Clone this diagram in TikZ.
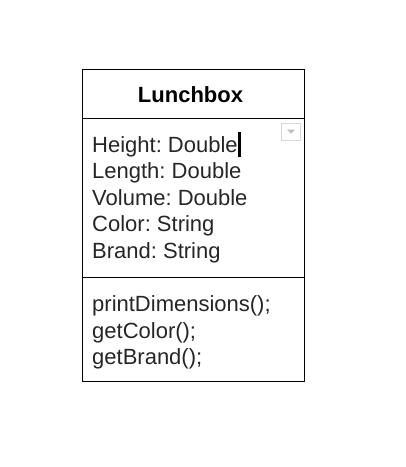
\documentclass[tikz,border=0pt]{standalone}
\usepackage{fontspec}
\setmainfont{Liberation Sans}
\frenchspacing
\begin{document}
\begin{tikzpicture}[x=1pt,y=-1pt,
  txt/.style={anchor=base west,inner sep=0pt,font=\fontsize{22}{26}\selectfont\frenchspacing,text=black!85},
  ttl/.style={anchor=base,inner sep=0pt,font=\fontsize{22}{26}\selectfont\bfseries},
  frame/.style={draw=black,line width=1pt}]
\useasboundingbox (0,0) rectangle (406,467);
\draw[frame] (82.5,69.5) rectangle (304.5,381.5);
\draw[frame] (82.5,118.5) -- (304.5,118.5);
\draw[frame] (82.5,277.5) -- (304.5,277.5);
\node[ttl] (title) at (190.5,102) {Lunchbox};
\node[txt] (a1) at (92,152) {Height: Double};
\node[txt] (a2) at (92,178.5) {Length: Double};
\node[txt] (a3) at (92,205) {Volume: Double};
\node[txt] (a4) at (92,231.5) {Color: String};
\node[txt] (a5) at (92,258) {Brand: String};
\node[txt] (m1) at (92,311.5) {printDimensions();};
\node[txt] (m2) at (92,338) {getColor();};
\node[txt] (m3) at (92,364.5) {getBrand();};
% text cursor
\fill[black] (237.5,131.5) rectangle (240.5,156.5);
% dropdown icon
\draw[black!15,line width=0.8pt] (281.5,123.5) rectangle (300.5,140.5);
\fill[black!25] (287,129.5) -- (295,129.5) -- (291,133.5) -- cycle;
\end{tikzpicture}
\end{document}
